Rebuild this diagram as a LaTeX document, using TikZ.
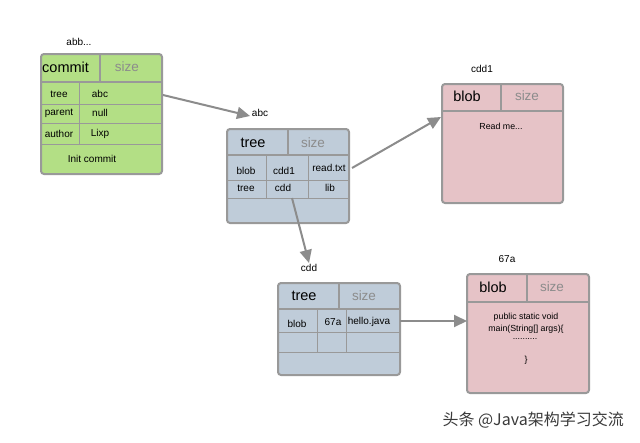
\documentclass[tikz,border=0pt]{standalone}
\usepackage{fontspec}
\setmainfont{Liberation Sans}
\newfontfamily\cjk{Noto Sans CJK SC}
\usetikzlibrary{arrows.meta}
\definecolor{gfill}{HTML}{B3DF85}
\definecolor{bfill}{HTML}{BFCCD9}
\definecolor{pfill}{HTML}{E6C3C7}
\definecolor{bord}{HTML}{999999}
\definecolor{sizegray}{HTML}{8C8C8C}
\definecolor{arrgray}{HTML}{8C8C8C}
\definecolor{wmgray}{HTML}{3A3A3A}
\begin{document}
\begin{tikzpicture}[x=1pt,y=-1pt,
  outer/.style={draw=bord, line width=2pt, rounded corners=3pt, inner sep=0pt, anchor=north west},
  hdr/.style={draw=bord, line width=1.5pt},
  inner/.style={draw=bord, line width=0.7pt},
  lbl/.style={font=\fontsize{10}{12}\selectfont},
  cell/.style={font=\fontsize{10}{12}\selectfont},
  head/.style={font=\fontsize{14.5}{16}\selectfont},
  sz/.style={font=\fontsize{13.5}{16}\selectfont, text=sizegray},
  body/.style={font=\fontsize{8.8}{10}\selectfont},
  arr/.style={draw=arrgray, line width=2pt, -{Triangle[length=13pt,width=12pt]}}]
\useasboundingbox (0,0) rectangle (640,442);
\fill[white] (0,0) rectangle (640,442);

% ---------- commit ----------
\node[outer, fill=gfill, minimum width=121pt, minimum height=120pt] (commit) at (40,53) {};
\draw[hdr] (40,82) -- (161,82);
\draw[hdr] (100,53) -- (100,82);
\draw[inner] (40,104) -- (161,104) (40,123) -- (161,123) (40,144) -- (161,144);
\draw[inner] (79,82) -- (79,144);
\node[lbl] (lcommit) at (79,42) {abb...};
\node[head, anchor=west, inner sep=0pt] (hcommit) at (42,67) {commit};
\node[sz] (scommit) at (127,67) {size};
\node[cell] (c11) at (59,94) {tree};
\node[cell] (c12) at (100,94) {abc};
\node[cell] (c21) at (59,113) {parent};
\node[cell] (c22) at (100,113) {null};
\node[cell] (c31) at (59,134) {author};
\node[cell] (c32) at (100,134) {Lixp};
\node[cell] (c4) at (92,159) {Init commit};

% ---------- tree abc ----------
\node[outer, fill=bfill, minimum width=122pt, minimum height=94pt] (tabc) at (226,128) {};
\draw[hdr] (226,155) -- (348,155);
\draw[hdr] (288,128) -- (288,155);
\draw[inner] (226,180) -- (348,180) (226,198) -- (348,198);
\draw[inner] (266,155) -- (266,198) (308,155) -- (308,198);
\node[lbl] (labc) at (260,113) {abc};
\node[head] (habc) at (253,143) {tree};
\node[sz] (sabc) at (313,143) {size};
\node[cell] (a11) at (246,171) {blob};
\node[cell] (a12) at (284,171) {cdd1};
\node[cell] (a13) at (329,168) {read.txt};
\node[cell] (a21) at (246,188) {tree};
\node[cell] (a22) at (283,188) {cdd};
\node[cell] (a23) at (330,188) {lib};

% ---------- blob cdd1 ----------
\node[outer, fill=pfill, minimum width=121pt, minimum height=119pt] (bcdd1) at (441,83) {};
\draw[hdr] (441,111) -- (562,111);
\draw[hdr] (501,83) -- (501,111);
\node[lbl] (lcdd1) at (482,69) {cdd1};
\node[head] (hcdd1) at (467,96) {blob};
\node[sz] (scdd1) at (527,96) {size};
\node[body] (rcdd1) at (501,126) {Read me...};

% ---------- tree cdd ----------
\node[outer, fill=bfill, minimum width=122pt, minimum height=92pt] (tcdd) at (277,282) {};
\draw[hdr] (277,309) -- (399,309);
\draw[hdr] (339,282) -- (339,309);
\draw[inner] (277,332) -- (399,332) (277,352) -- (399,352);
\draw[inner] (317,309) -- (317,352) (346,309) -- (346,352);
\node[lbl] (lcdd) at (309,268) {cdd};
\node[head] (hcdd) at (304,296) {tree};
\node[sz] (scdd) at (364,296) {size};
\node[cell] (d11) at (297,324) {blob};
\node[cell] (d12) at (333,322) {67a};
\node[cell] (d13) at (369,322) {hello.java};

% ---------- blob 67a ----------
\node[outer, fill=pfill, minimum width=122pt, minimum height=119pt] (b67a) at (466,273) {};
\draw[hdr] (466,302) -- (588,302);
\draw[hdr] (527,273) -- (527,302);
\node[lbl] (l67a) at (507,259) {67a};
\node[head] (h67a) at (493,287) {blob};
\node[sz] (s67a) at (552,287) {size};
\node[body] (p1) at (526,317) {public static void};
\node[body] (p2) at (526,329) {main(String[] args)\{};
\node[body] (p3) at (525,339) {..........};
\node[body] (p4) at (526,360) {\}};

% ---------- connectors ----------
\coordinate (s1) at (163,95);
\coordinate (e1) at (250,116);
\coordinate (s2) at (352,168);
\coordinate (e2) at (441,117);
\coordinate (s3) at (292,198);
\coordinate (e3) at (309,263);
\coordinate (s4) at (400,321);
\coordinate (e4) at (467,321);
\draw[arr] (s1) -- (e1);
\draw[arr] (s2) -- (e2);
\draw[arr] (s3) -- (e3);
\draw[arr] (s4) -- (e4);

% ---------- watermark ----------
\node[font=\cjk\fontsize{16}{19}\selectfont, text=wmgray, anchor=east, inner sep=0pt] (wm) at (624,420) {头条 @Java架构学习交流};
\end{tikzpicture}
\end{document}
